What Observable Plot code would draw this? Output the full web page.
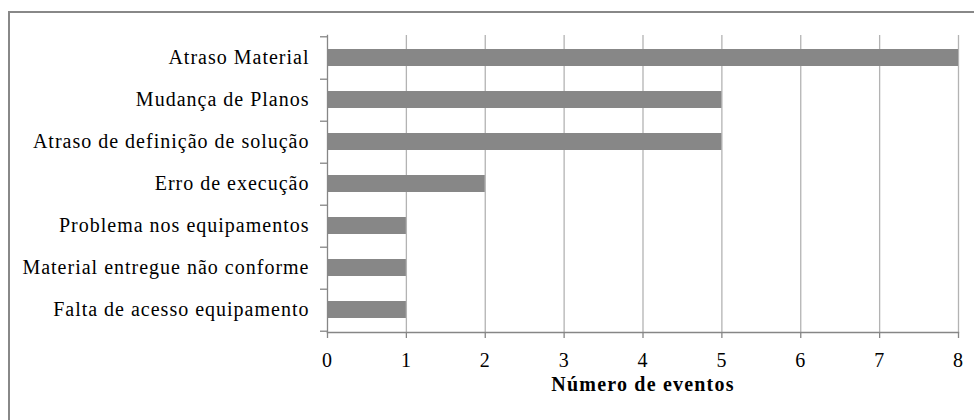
<!DOCTYPE html>
<html>
<head>
<meta charset="utf-8">
<script src="https://cdn.jsdelivr.net/npm/d3@7"></script>
<script src="https://cdn.jsdelivr.net/npm/@observablehq/plot@0.6"></script>
<style>
  html, body { margin: 0; padding: 0; background: #fff; overflow: hidden; width: 974px; height: 420px; }
  #chart { position: absolute; left: 0; top: 0; }
  #chart svg, #chart svg text { font-family: "Liberation Serif", "Times New Roman", serif !important; }
  #chart svg text { letter-spacing: 1px; }
  #chart svg .title text { letter-spacing: 1.2px; }
  #box { position: absolute; left: 8px; top: 11px; width: 1000px; height: 500px;
         border-left: 2px solid #888; border-top: 2px solid #888; pointer-events: none; }
</style>
</head>
<body>
<div id="chart"></div>
<div id="box"></div>
<script>
const causes = [
  "Atraso Material",
  "Mudança de Planos",
  "Atraso de definição de solução",
  "Erro de execução",
  "Problema nos equipamentos",
  "Material entregue não conforme",
  "Falta de acesso equipamento"
];
const events = [8, 5, 5, 2, 1, 1, 1];
const xTicks = [0, 1, 2, 3, 4, 5, 6, 7, 8];
const xTitle = "Número de eventos";

const data = causes.map((c, i) => ({cause: c, value: events[i]}));

const W = 974, H = 420, mTop = 35, mBottom = 88, mLeft = 327, mRight = 16;
const step = (H - mTop - mBottom) / causes.length;
const axisGray = "#868686";
const gridGray = "#b3b3b3";

const chart = Plot.plot({
  width: W,
  height: H,
  marginTop: mTop,
  marginBottom: mBottom,
  marginLeft: mLeft,
  marginRight: mRight,
  style: {fontSize: "20px", color: "#000", background: "transparent"},
  x: {domain: [0, 8]},
  y: {domain: causes, paddingInner: 0.6, paddingOuter: 0.3},
  marks: [
    Plot.gridX(xTicks.filter(d => d > 0), {stroke: gridGray, strokeOpacity: 1, strokeWidth: 1.3}),
    Plot.barX(data, {x: "value", y: "cause", fill: "#878787"}),
    Plot.frame({anchor: "left", stroke: axisGray, strokeWidth: 1.3}),
    Plot.frame({anchor: "bottom", stroke: axisGray, strokeWidth: 1.3}),
    Plot.axisY({tickSize: 0, tickPadding: 18, label: null, fill: "#000", fontSize: 20}),
    Plot.axisY({tickSize: 7, tickFormat: () => "", label: null, dy: step / 2, stroke: axisGray, strokeWidth: 1.3}),
    Plot.axisY([causes[0]], {tickSize: 7, tickFormat: () => "", label: null, dy: -step / 2, stroke: axisGray, strokeWidth: 1.3}),
    Plot.axisX(xTicks, {tickSize: 6, tickPadding: 14, label: null, stroke: axisGray, strokeWidth: 1.3, fill: "#000", fontSize: 20}),
    Plot.text([xTitle], {frameAnchor: "bottom", dy: 58, fontWeight: "bold", fontSize: 20, fill: "#000", className: "title"})
  ]
});
document.getElementById("chart").appendChild(chart);
</script>
</body>
</html>
